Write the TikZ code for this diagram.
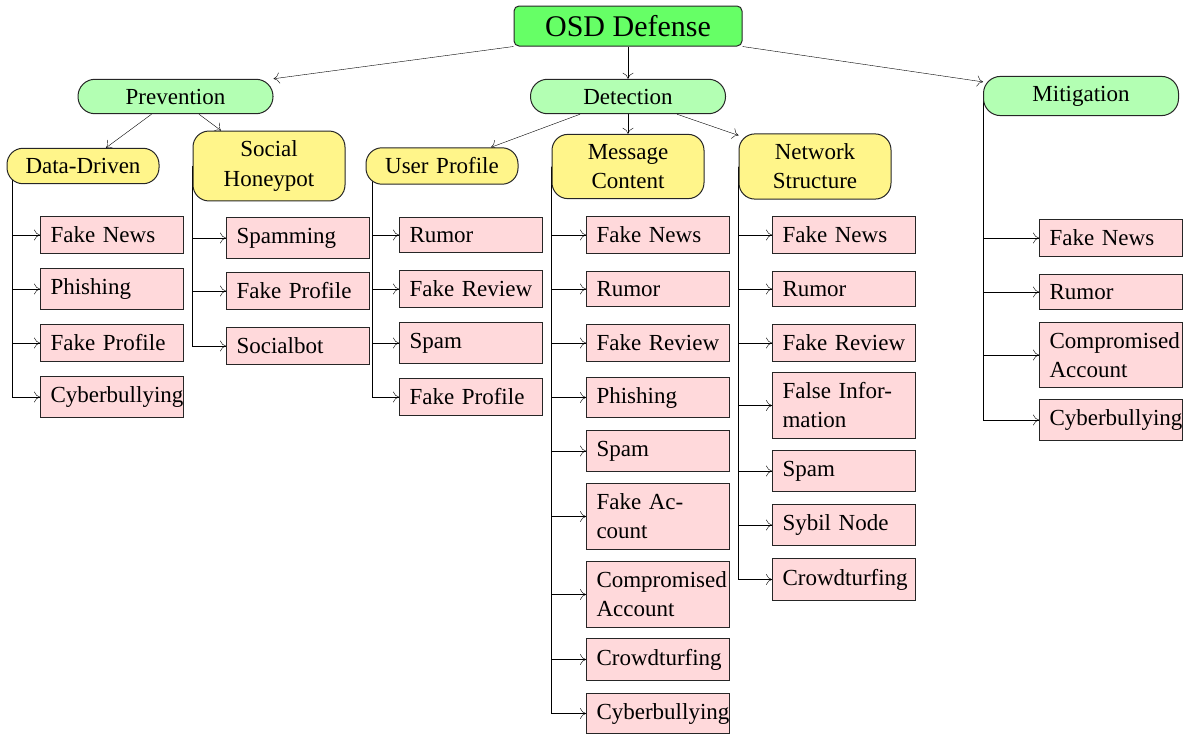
\documentclass[tikz,border=0pt]{standalone}
\usepackage{fontspec}
\setmainfont{Liberation Serif}
\usetikzlibrary{arrows.meta,backgrounds,calc}
\definecolor{osdg}{RGB}{102,255,102}
\definecolor{lgreen}{RGB}{179,255,179}
\definecolor{yel}{RGB}{255,245,138}
\definecolor{pnk}{RGB}{255,217,219}
\begin{document}
\begin{tikzpicture}[x=1pt,y=-1pt,
  >={To[length=6pt,width=11pt]}, line width=1pt,
  every node/.style={font=\fontsize{23}{29}\selectfont, line width=1pt, draw=black!85,
    execute at begin node={\hyphenpenalty=10000\exhyphenpenalty=10000}},
  root/.style={fill=osdg, rounded corners=5pt, minimum width=228pt, minimum height=40pt, font=\fontsize{30}{36}\selectfont},
  cat/.style={fill=lgreen, rounded corners=17pt, minimum width=195pt, inner ysep=9.5pt},
  sub/.style={fill=yel, rounded corners=16pt, text width=130pt, align=center, inner xsep=11pt, inner ysep=10pt},
  leaf/.style={fill=pnk, text width=123pt, align=left, inner xsep=10pt, inner ysep=10pt, anchor=west, rounded corners=0pt}]
\useasboundingbox (0,0) rectangle (1188,736);
% root and categories
\node[root] (osd) at (628,26) {OSD Defense};
\node[cat] (prev) at (175.5,96.5) {Prevention};
\node[cat] (det) at (628,96.5) {Detection};
\node[cat] (mit) at (1081,96) {Mitigation};
% sub categories
\node[sub] (dd) at (83,166) {Data-Driven};
\node[sub] (sh) at (269,166) {Social\\Honeypot};
\node[sub] (up) at (442,166) {User Profile};
\node[sub] (mc) at (628,166.5) {Message\\Content};
\node[sub] (ns) at (815,166.5) {Network\\Structure};
% Data-Driven leaves
\node[leaf] (dd1) at (40,235) {Fake News};
\node[leaf] (dd2) at (40,289) {Phishing};
\node[leaf] (dd3) at (40,343) {Fake Profile};
\node[leaf] (dd4) at (40,397) {Cyberbullying};
% Social Honeypot leaves
\node[leaf] (sh1) at (226,238) {Spamming};
\node[leaf] (sh2) at (226,291) {Fake Profile};
\node[leaf] (sh3) at (226,346) {Socialbot};
% User Profile leaves
\node[leaf] (up1) at (399,235) {Rumor};
\node[leaf] (up2) at (399,289) {Fake Review};
\node[leaf] (up3) at (399,343) {Spam};
\node[leaf] (up4) at (399,397) {Fake Profile};
% Message Content leaves
\node[leaf] (mc1) at (586,235) {Fake News};
\node[leaf] (mc2) at (586,289) {Rumor};
\node[leaf] (mc3) at (586,343) {Fake Review};
\node[leaf] (mc4) at (586,397.5) {Phishing};
\node[leaf] (mc5) at (586,451) {Spam};
\node[leaf] (mc6) at (586,516.5) {Fake Ac-\\count};
\node[leaf] (mc7) at (586,594.5) {Compromised\\Account};
\node[leaf] (mc8) at (586,659.5) {Crowdturfing};
\node[leaf] (mc9) at (586,713.5) {Cyberbullying};
% Network Structure leaves
\node[leaf] (ns1) at (772,235) {Fake News};
\node[leaf] (ns2) at (772,289) {Rumor};
\node[leaf] (ns3) at (772,343) {Fake Review};
\node[leaf] (ns4) at (772,405.5) {False Infor-\\mation};
\node[leaf] (ns5) at (772,471) {Spam};
\node[leaf] (ns6) at (772,525) {Sybil Node};
\node[leaf] (ns7) at (772,579.5) {Crowdturfing};
% Mitigation leaves
\node[leaf] (mi1) at (1039,238) {Fake News};
\node[leaf] (mi2) at (1039,292) {Rumor};
\node[leaf] (mi3) at (1039,355) {Compromised\\Account};
\node[leaf] (mi4) at (1039,420) {Cyberbullying};
\begin{pgfonlayer}{background}
\draw[->] (osd.south west) -- (prev.north east);
\draw[->] (osd.south) -- (det.north);
\draw[->] (osd.south east) -- ([yshift=-6pt]mit.north west);
\draw[->] ([xshift=-24pt]prev.south) -- ([xshift=23pt]dd.north);
\draw[->] ([xshift=23.5pt]prev.south) -- ([xshift=-48pt]sh.north);
\draw[->] ([xshift=-48pt]det.south) -- ([xshift=49pt]up.north);
\draw[->] (det.south) -- (mc.north);
\draw[->] ([xshift=49pt]det.south) -- ([yshift=-2pt]ns.north west);
\foreach \c in {dd1,dd2,dd3,dd4} \draw[->] ([xshift=6pt]dd.west) |- (\c.west);
\foreach \c in {sh1,sh2,sh3} \draw[->] (sh.west) |- (\c.west);
\foreach \c in {up1,up2,up3,up4} \draw[->] ([xshift=7pt]up.west) |- (\c.west);
\foreach \c in {mc1,mc2,mc3,mc4,mc5,mc6,mc7,mc8,mc9} \draw[->] (mc.west) |- (\c.west);
\foreach \c in {ns1,ns2,ns3,ns4,ns5,ns6,ns7} \draw[->] (ns.west) |- (\c.west);
\foreach \c in {mi1,mi2,mi3,mi4} \draw[->] (mit.west) |- (\c.west);
\end{pgfonlayer}
\end{tikzpicture}
\end{document}
